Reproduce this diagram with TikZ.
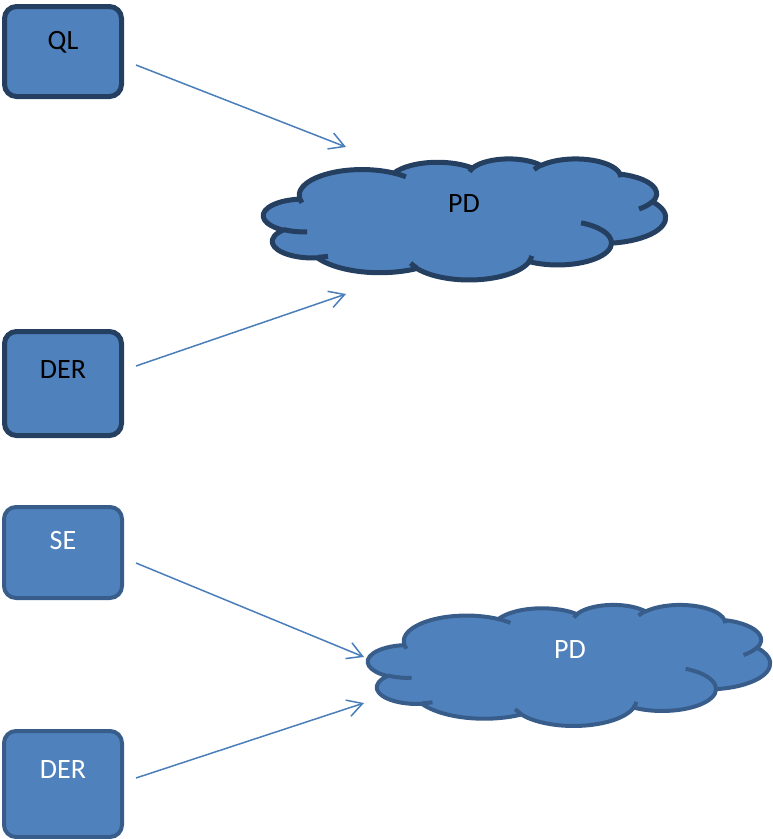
\documentclass[tikz,border=0pt]{standalone}
\usepackage{fontspec}
\setmainfont{Carlito}
\usetikzlibrary{arrows.meta}
\definecolor{fillblue}{HTML}{4F81BD}
\definecolor{darkline}{HTML}{243F60}
\definecolor{midline}{HTML}{385D8A}
\definecolor{arrowblue}{HTML}{4A7EBB}
\newcommand\carc[4]{arc[x radius=#1, y radius=#2, start angle={atan2(#1*sin(#3),#2*cos(#3))}, delta angle={mod(atan2(#1*sin(#3+#4),#2*cos(#3+#4))-atan2(#1*sin(#3),#2*cos(#3))+720,360)}]}
\newcommand\mycloud[3]{%
\begin{scope}[shift={#1}, x=0.093056pt, y=-0.028009pt]
\path[fill=fillblue, draw=#2, line width=#3, line join=round]
 (390,1437) \carc{675.3}{919}{-190.4875}{123.7805}
 \carc{533.3}{726.7}{-144.1024}{89.9452}
 \carc{436.5}{594.5}{-145.8079}{99.7230}
 \carc{485.7}{659.5}{-130.9861}{117.2417}
 \carc{533.3}{727.3}{-78.7089}{109.0269}
 \carc{677.5}{922}{-46.2673}{130.2690}
 \carc{578.5}{786.7}{0.6250}{114.0333}
 \carc{675.2}{921.5}{22.4516}{115.1726}
 \carc{772}{1054.3}{66.2426}{75.7110}
 \carc{436}{591.8}{-274.9421}{146.7356}
 \carc{434.5}{594.5}{-246.8285}{152.5189}
 -- cycle;
\draw[draw=#2, line width=#3]
 (469.3,2617.7) \carc{434.5}{594.5}{86.7420}{26.4295}
 (692.8,3489.9) \carc{436}{591.8}{73.6105}{11.4475}
 (1647.8,3909) \carc{675.2}{921.5}{137.6242}{14.0811}
 (2882.7,3475.1) \carc{675.2}{921.5}{6.4533}{15.9984}
 (3412.9,2295.4) \carc{578.5}{786.7}{-70.2924}{70.9174}
 (4179.8,1535.4) \carc{533.3}{727.3}{30.3180}{27.7515}
 (3832.4,542.6) \carc{485.7}{659.5}{-13.7443}{14.8589}
 (2907.8,395.2) \carc{485.7}{659.5}{-149.1815}{18.1954}
 (2214.1,472) \carc{436.5}{594.5}{-163.4943}{17.6864}
 (1400,519.2) \carc{675.3}{919}{-66.7070}{12.3194}
 (412.7,1578.9) \carc{675.3}{919}{157.6544}{11.8582};
\end{scope}}
\tikzset{
  topbox/.style={draw=darkline, line width=5pt, fill=fillblue, rounded corners=12pt},
  botbox/.style={draw=midline, line width=4pt, fill=fillblue, rounded corners=12pt},
  txt/.style={anchor=base, inner sep=0pt, font=\fontsize{28}{33}\selectfont},
  arr/.style={draw=arrowblue, line width=1.5pt, -{Straight Barb[length=15pt,width=17pt]}}
}
\begin{document}
\begin{tikzpicture}[x=1pt,y=-1pt]
\useasboundingbox (0,0) rectangle (773,839);
% boxes
\node[topbox, minimum width=117pt, minimum height=90pt, inner sep=0pt] (ql) at (63,51.5) {};
\node[topbox, minimum width=117pt, minimum height=104pt, inner sep=0pt] (der1) at (63,383.5) {};
\node[botbox, minimum width=118pt, minimum height=91pt, inner sep=0pt] (se) at (63,552.5) {};
\node[botbox, minimum width=118pt, minimum height=106pt, inner sep=0pt] (der2) at (63,784) {};
\node[txt, text=black] (tql) at (63,49.5) {QL};
\node[txt, text=black] (tder1) at (63,378) {DER};
\node[txt, text=white] (tse) at (63,549) {SE};
\node[txt, text=white] (tder2) at (63,778) {DER};
% clouds
\mycloud{(263.5,158.5)}{darkline}{5pt}
\mycloud{(368,604.5)}{midline}{4pt}
\node[txt, text=black] (pd1) at (464,212) {PD};
\node[txt, text=white] (pd2) at (570,658) {PD};
% arrows
\coordinate (a1s) at (136,65);  \coordinate (a1e) at (346,147);
\coordinate (a2s) at (136,366); \coordinate (a2e) at (346,294);
\coordinate (a3s) at (136,563); \coordinate (a3e) at (364,657);
\coordinate (a4s) at (136,778); \coordinate (a4e) at (364,703);
\draw[arr] (a1s) -- (a1e);
\draw[arr] (a2s) -- (a2e);
\draw[arr] (a3s) -- (a3e);
\draw[arr] (a4s) -- (a4e);
\end{tikzpicture}
\end{document}
